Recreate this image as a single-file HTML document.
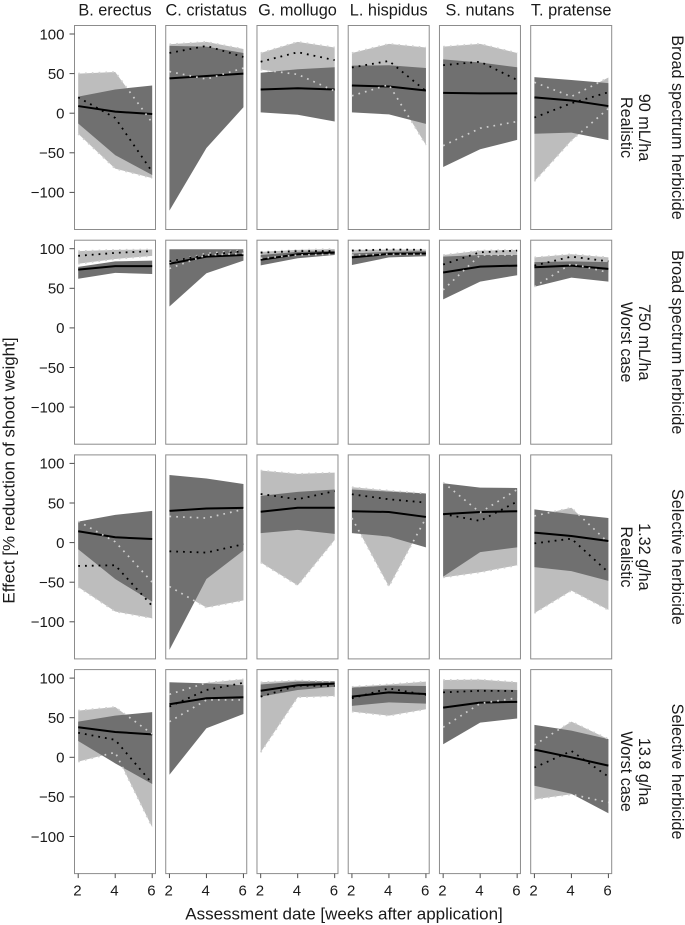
<!DOCTYPE html>
<html lang="en">
<head>
<meta charset="utf-8">
<title>Herbicide effect on shoot weight</title>
<style>
html,body{margin:0;padding:0;background:#fff}
svg{display:block}
text{font-family:"Liberation Sans",Arial,sans-serif;fill:#1a1a1a}
</style>
</head>
<body>
<svg id="chart" xmlns="http://www.w3.org/2000/svg" width="685" height="925" viewBox="0 0 685 925"></svg>
<script>
// Categories and labels
const species = ["B. erectus", "C. cristatus", "G. mollugo", "L. hispidus", "S. nutans", "T. pratense"];
const herbicides = ["Broad spectrum herbicide", "Broad spectrum herbicide", "Selective herbicide", "Selective herbicide"];
const doses = ["90 mL/ha", "750 mL/ha", "1.32 g/ha", "13.8 g/ha"];
const scenarios = ["Realistic", "Worst case", "Realistic", "Worst case"];
const weeks = [2, 4, 6];
const yTicks = [100, 50, 0, -50, -100];
const yTickLabels = ["100", "50", "0", "\u221250", "\u2212100"];
const xTicks = [2, 4, 6];

// Series values: [row][species][week]
const darkMean = [
  [[9,2,-1],[44,47,50],[30,31.5,30],[35,33.7,28.6],[25.7,25,25],[20,16,9]],
  [[73.6,78,78],[81,90,92],[86,93,95],[89,93.4,94],[70,77.4,78.7],[76.6,78.7,74.5]],
  [[14.3,6.7,4.6],[40,43,43.8],[39,44,44],[39.6,38.7,32.4],[36,38.7,39.6],[12.6,8.4,2]],
  [[38,32,29],[67,74.5,75.8],[84,91,93],[76.6,82,80],[62.7,69,70],[9.7,0,-10.5]]
];
const darkLow = [
  [[-13,-53,-78],[-123,-44,7.5],[1,-2,-10.5],[1,-1.5,-13.5],[-68,-45.5,-33.7],[-26,-24.5,-34]],
  [[62,69.5,68],[27,69,85],[79,88,92],[79.5,89,90.5],[36,58.5,66.5],[52,63.5,58.5]],
  [[-8.4,-46,-74.5],[-135.5,-46,-10],[12,16,11],[12,7.6,-6],[-43,-12,-6],[-31,-36,-48.4]],
  [[20.6,-7.6,-33.7],[-22,36.6,54.7],[76.6,85,89],[65,69.4,67.8],[16.4,43.8,49],[-36,-46,-70.7]]
];
const darkHigh = [
  [[21,30,35],[85,84,76],[51,55.5,58],[60,60.5,57],[68,64,58],[45.5,42,38]],
  [[77,84,85],[99.3,99.3,99.3],[92,96,97.6],[94,96,97],[90,92,92],[83,84,83]],
  [[26.5,35,40],[85.4,81,74],[59,64,67],[67,64.4,62],[75,69.4,69],[42,36,31]],
  [[45,52.6,57],[94.7,93.4,91],[92,95.5,96],[88,90.5,90],[86,86,85],[41,33.7,23]]
];
const lightMean = [
  [[20,-6,-74],[76,85,71],[65,77,67],[57.7,66,28],[60.6,65,42],[-5.5,12.6,26.5]],
  [[91,94.7,97],[84,92,97],[95,97,97],[97.6,99,98.5],[80,95.5,97.6],[78.7,90,84]],
  [[-29.5,-28.6,-80],[-11,-12.6,-2],[61.4,54.7,65],[61,54.7,50.5],[36,27.4,51.8],[-1,5,-37.5]],
  [[31,22,-33],[64,85,94],[76.6,90.5,90],[74.5,87,78.7],[82,84,83.7],[-13,8,-24.4]]
];
const lightLow = [
  [[-26,-70,-82],[52.6,43,57],[55,49,28],[22,36,-40],[-41,-19,-10.5],[-86,-34.5,6]],
  [[81,87,91],[75,92,94],[88,92,93],[92,93,93],[48,92,92],[52,81,70]],
  [[-56,-87,-95.5],[-55.5,-82,-73],[-25,-54,3.4],[31,-55.5,31],[-44,-37.5,-28.6],[-89,-60.6,-85]],
  [[-5.5,6.3,-88.4],[45,72.4,72.4],[6.3,75.8,77.4],[57.7,52.6,60.6],[38,68,75],[-53,-46.7,-57]]
];
const lightHigh = [
  [[50,52,-12],[87,90,81],[76,90,83],[76,87.5,83],[84,87.5,76],[39,21,45]],
  [[97,98.5,99],[83,94,98],[96,98.5,99.7],[98.5,99,99],[92,97.6,98.5],[89,93,89]],
  [[27,1,-50],[33,31,42],[91,86.7,88.4],[70,65.6,62],[76,38,67],[33.7,44,0]],
  [[59,63.5,29.5],[79.5,94,98.5],[94.7,97,95.5],[89,92,95.5],[97.6,98,94.7],[15.6,45,23]]
];

// Layout
const panelWidth = 81, panelHeight = 204;
const colLeft = 74.5, colPitch = 91.24;
const rowTop = 25.5, rowPitch = 214.7;
const zeroY = 113.2, pxPerUnit = 0.792;
const insetX = 3.7, pxPerWeek = 18.5;
const svgNS = "http://www.w3.org/2000/svg";
const chart = document.getElementById("chart");

function panelX(col) { return colLeft + col * colPitch; }
function panelY(row) { return rowTop + row * rowPitch; }
function xScale(week, col) { return panelX(col) + insetX + (week - weeks[0]) * pxPerWeek; }
function yScale(value, row) { return zeroY + row * rowPitch - value * pxPerUnit; }

function make(parent, tag, attrs, content) {
  const node = document.createElementNS(svgNS, tag);
  for (const key in attrs) node.setAttribute(key, attrs[key]);
  if (content !== undefined) node.textContent = content;
  parent.appendChild(node);
  return node;
}
function linePoints(values, row, col) {
  return weeks.map((w, i) => xScale(w, col).toFixed(2) + "," + yScale(values[i], row).toFixed(2)).join(" ");
}
function bandPoints(low, high, row, col) {
  const top = weeks.map((w, i) => xScale(w, col).toFixed(2) + "," + yScale(high[i], row).toFixed(2));
  const bottom = weeks.map((w, i) => xScale(w, col).toFixed(2) + "," + yScale(low[i], row).toFixed(2)).reverse();
  return top.concat(bottom).join(" ");
}

// Panels
species.forEach((name, col) => {
  const title = make(chart, "text", {x: panelX(col) + panelWidth / 2, y: 15.5, "text-anchor": "middle", "font-size": 16.3}, name);
  
  
});

herbicides.forEach((_, row) => {
  species.forEach((_s, col) => {
    const g = make(chart, "g", {});
    
    

    const bg = make(g, "rect", {x: panelX(col), y: panelY(row), width: panelWidth, height: panelHeight, fill: "#fff"});
    
    

    const lightBand = make(g, "polygon", {points: bandPoints(lightLow[row][col], lightHigh[row][col], row, col), fill: "#bdbdbd"});
    
    

    const darkBand = make(g, "polygon", {points: bandPoints(darkLow[row][col], darkHigh[row][col], row, col), fill: "#707070"});
    
    

    const solid = make(g, "polyline", {points: linePoints(darkMean[row][col], row, col), fill: "none", stroke: "#000", "stroke-width": 2});
    
    

    const edgeHigh = make(g, "polyline", {points: linePoints(lightHigh[row][col], row, col), fill: "none", stroke: "#cfcfcf", "stroke-width": 1.7, "stroke-dasharray": "1.7 5.1"});
    
    

    const edgeLow = make(g, "polyline", {points: linePoints(lightLow[row][col], row, col), fill: "none", stroke: "#cfcfcf", "stroke-width": 1.7, "stroke-dasharray": "1.7 5.1"});
    
    

    const dotted = make(g, "polyline", {points: linePoints(lightMean[row][col], row, col), fill: "none", stroke: "#000", "stroke-width": 1.8, "stroke-dasharray": "1.8 5"});
    
    

    const border = make(g, "rect", {x: panelX(col), y: panelY(row), width: panelWidth, height: panelHeight, fill: "none", stroke: "#8c8c8c", "stroke-width": 1});
    
    
  });

  // Y axis
  yTicks.forEach((tick, i) => {
    const y = yScale(tick, row);
    const mark = make(chart, "line", {x1: colLeft - 5, x2: colLeft, y1: y, y2: y, stroke: "#4d4d4d", "stroke-width": 1});
    
    
    const label = make(chart, "text", {x: colLeft - 10, y: y + 5.3, "text-anchor": "end", "font-size": 15}, yTickLabels[i]);
    
    
  });

  // Right-hand strips
  const cy = panelY(row) + panelHeight / 2;
  const strip1 = make(chart, "text", {transform: "translate(672 " + cy + ") rotate(90)", "text-anchor": "middle", "font-size": 16.2}, herbicides[row]);
  
  
  const strip2 = make(chart, "text", {transform: "translate(639 " + cy + ") rotate(90)", "text-anchor": "middle", "font-size": 16.2}, doses[row]);
  
  
  const strip3 = make(chart, "text", {transform: "translate(621 " + cy + ") rotate(90)", "text-anchor": "middle", "font-size": 16.2}, scenarios[row]);
  
  
});

// X axis
species.forEach((_, col) => {
  xTicks.forEach((tick) => {
    const x = xScale(tick, col);
    const base = panelY(herbicides.length - 1) + panelHeight;
    const mark = make(chart, "line", {x1: x, x2: x, y1: base, y2: base + 4.5, stroke: "#4d4d4d", "stroke-width": 1});
    
    
    const label = make(chart, "text", {x: x - 0.8, y: 895.5, "text-anchor": "middle", "font-size": 15}, String(tick));
    
    
  });
});

const xTitle = make(chart, "text", {x: 344, y: 919.5, "text-anchor": "middle", "font-size": 17}, "Assessment date [weeks after application]");



const yTitle = make(chart, "text", {transform: "translate(14.5 470.5) rotate(-90)", "text-anchor": "middle", "font-size": 17}, "Effect [% reduction of shoot weight]");


</script>
</body>
</html>
